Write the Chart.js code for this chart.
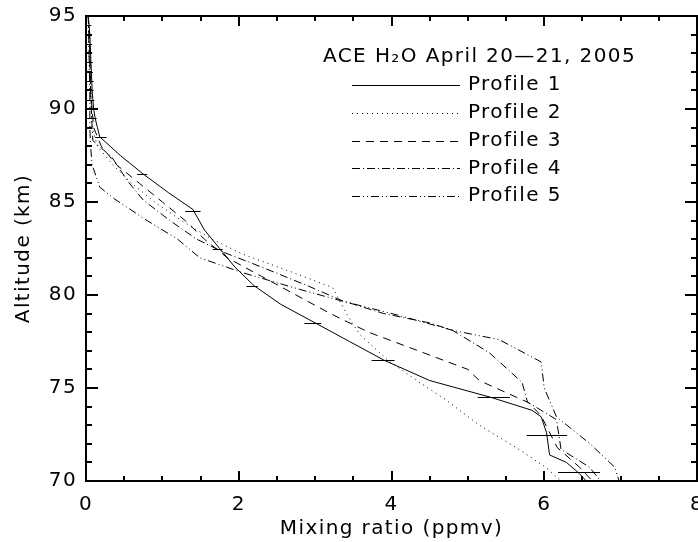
<!DOCTYPE html>
<html>
<head>
<meta charset="utf-8">
<script src="https://cdn.jsdelivr.net/npm/chart.js@4"></script>
<style>
html, body { margin: 0; padding: 0; background: #fff; }
#wrap { width: 698px; height: 542px; }
</style>
</head>
<body>
<div id="wrap"><canvas id="myChart"></canvas></div>
<script>
// altitude (km) and mixing ratio (ppmv) for each profile
var alt1 = [95, 94, 93, 92, 91, 90, 89.5, 89, 88.5, 87.5, 86.5, 85.5, 84.6, 83.5, 82.5, 81.5, 80.5, 79.5, 78.5, 77.5, 76.5, 75.4, 74.5, 73.8, 73.45, 72.6, 71.4, 71.0, 70.4, 70];
var ppm1 = [0.03, 0.05, 0.06, 0.07, 0.08, 0.1, 0.12, 0.15, 0.18, 0.45, 0.75, 1.08, 1.4, 1.55, 1.75, 1.95, 2.2, 2.55, 3.0, 3.45, 3.9, 4.5, 5.3, 5.84, 5.96, 6.03, 6.07, 6.29, 6.46, 6.55];

var alt2 = [95, 93, 91, 90, 89, 88, 87, 86, 85, 84, 83, 82.2, 81.3, 80.4, 79, 77.9, 76.5, 75.4, 74.4, 73.0, 71.7, 70.7, 70];
var ppm2 = [0.03, 0.04, 0.06, 0.07, 0.08, 0.15, 0.35, 0.6, 0.9, 1.25, 1.65, 2.05, 2.65, 3.23, 3.41, 3.58, 3.95, 4.33, 4.7, 5.15, 5.67, 6.03, 6.22];

var alt3 = [95, 93, 91, 90, 89, 88, 87, 86, 85, 84, 83, 82, 81, 80, 79, 78, 77, 76, 75.4, 74.2, 73.5, 71.8, 70.75, 70];
var ppm3 = [0.03, 0.05, 0.06, 0.08, 0.1, 0.2, 0.4, 0.7, 1.0, 1.3, 1.55, 1.85, 2.3, 2.75, 3.2, 3.7, 4.35, 5.0, 5.15, 5.8, 5.96, 6.17, 6.46, 6.63];

var alt4 = [95, 93, 91, 89, 88.3, 87.4, 86.1, 85.1, 84, 83, 82.3, 81.5, 80.5, 79.7, 79, 78.5, 78.1, 76.9, 75.3, 74.25, 73.3, 71.7, 70.75, 70];
var ppm4 = [0.03, 0.05, 0.06, 0.08, 0.09, 0.34, 0.55, 0.75, 1.1, 1.45, 1.8, 2.3, 2.9, 3.35, 3.9, 4.5, 4.8, 5.28, 5.71, 5.78, 6.16, 6.22, 6.59, 6.74];

var alt5 = [95, 93, 91, 89, 88, 87, 85.8, 85.2, 84, 83, 82, 81.2, 80.3, 79.7, 78.9, 78.1, 77.6, 76.4, 75, 73.45, 72, 70.75, 70];
var ppm5 = [0.03, 0.04, 0.05, 0.05, 0.06, 0.08, 0.18, 0.36, 0.8, 1.2, 1.49, 2.05, 2.8, 3.33, 4.1, 4.8, 5.41, 5.96, 6.0, 6.16, 6.6, 6.92, 6.98];

// horizontal error bars on profile 1
var errAlt = [94.5, 94, 93.5, 93, 92.5, 92, 91.5, 91, 90.5, 90, 89.5, 88.5, 86.5, 84.5, 82.5, 80.5, 78.5, 76.5, 74.5, 72.5, 70.5];
var errLo  = [0, 0, 0, 0, 0, 0, 0, 0, 0, 0, 0, 0.12, 0.67, 1.3, 1.66, 2.1, 2.86, 3.74, 5.13, 5.77, 6.18];
var errHi  = [0.07, 0.07, 0.08, 0.08, 0.09, 0.09, 0.1, 0.1, 0.11, 0.12, 0.14, 0.27, 0.8, 1.5, 1.79, 2.25, 3.08, 4.04, 5.55, 6.30, 6.73];

var legendTitle = "ACE H\u2082O April 20\u201421, 2005";
var labels = ["Profile 1", "Profile 2", "Profile 3", "Profile 4", "Profile 5"];

function pts(a, v) {
    var out = [];
    for (var i = 0; i < a.length; i++) out.push({x: v[i], y: a[i]});
    return out;
}

Chart.defaults.font.family = "'DejaVu Sans', sans-serif";
Chart.defaults.font.size = 20;
Chart.defaults.color = "#000";

var boxPlugin = {
    id: "box",
    beforeDraw: function(chart) {
        chart.ctx.letterSpacing = "1.4px";
    },
    afterDatasetsDraw: function(chart) {
        var ctx = chart.ctx, a = chart.chartArea;
        var xs = chart.scales.x, ys = chart.scales.y;
        var i, v, p, len;
        ctx.save();
        ctx.strokeStyle = "#000";
        ctx.lineWidth = 1;
        ctx.beginPath();
        for (i = 0; i < errAlt.length; i++) {
            p = Math.round(ys.getPixelForValue(errAlt[i])) + 0.5;
            ctx.moveTo(xs.getPixelForValue(errLo[i]), p);
            ctx.lineTo(xs.getPixelForValue(errHi[i]), p);
        }
        ctx.stroke();

        ctx.lineWidth = 2;
        ctx.strokeRect(a.left, a.top, a.right - a.left, a.bottom - a.top);
        ctx.beginPath();
        for (v = 0; v <= 8; v += 0.5) {
            p = Math.round(xs.getPixelForValue(v));
            len = (v % 2 === 0) ? 10 : 5;
            ctx.moveTo(p, a.bottom); ctx.lineTo(p, a.bottom - len);
            ctx.moveTo(p, a.top); ctx.lineTo(p, a.top + len);
        }
        for (v = 70; v <= 95; v += 1) {
            p = Math.round(ys.getPixelForValue(v));
            len = (v % 5 === 0) ? 12 : 6;
            ctx.moveTo(a.left, p); ctx.lineTo(a.left + len, p);
            ctx.moveTo(a.right, p); ctx.lineTo(a.right - len, p);
        }
        ctx.stroke();
        ctx.restore();
    },
    afterDraw: function(chart) {
        var ctx = chart.ctx;
        ctx.save();
        ctx.fillStyle = "#000";
        ctx.strokeStyle = "#000";
        ctx.lineWidth = 1;
        ctx.font = "20px 'DejaVu Sans'";
        ctx.textBaseline = "middle";
        ctx.textAlign = "left";
        ctx.fillText(legendTitle, 323, 57);
        for (var i = 0; i < chart.data.datasets.length; i++) {
            var ds = chart.data.datasets[i];
            var y = 85 + i * 27.8;
            ctx.setLineDash(ds.borderDash || []);
            ctx.beginPath();
            ctx.moveTo(352, Math.round(y) + 0.5);
            ctx.lineTo(460, Math.round(y) + 0.5);
            ctx.stroke();
            ctx.setLineDash([]);
            ctx.fillText(ds.label, 468, y);
        }
        ctx.restore();
    }
};

function line(label, data, dash) {
    return {
        label: label,
        data: data,
        showLine: true,
        borderColor: "#000",
        backgroundColor: "#000",
        borderWidth: 1,
        borderDash: dash,
        pointRadius: 0,
        tension: 0
    };
}

// keep chart area edges fixed, no extra room for the edge tick labels
function noPad(s) {
    s.paddingLeft = 0; s.paddingRight = 0; s.paddingTop = 0; s.paddingBottom = 0;
}

var ctx = document.getElementById("myChart").getContext("2d");
var myChart = new Chart(ctx, {
    type: "scatter",
    data: {
        datasets: [
            line(labels[0], pts(alt1, ppm1), []),
            line(labels[1], pts(alt2, ppm2), [1, 4]),
            line(labels[2], pts(alt3, ppm3), [8, 6]),
            line(labels[3], pts(alt4, ppm4), [8, 3, 1, 3]),
            line(labels[4], pts(alt5, ppm5), [8, 3, 1, 3, 1, 3])
        ]
    },
    options: {
        responsive: true,
        maintainAspectRatio: false,
        animation: false,
        layout: { padding: { top: 16, right: 1, left: 0, bottom: 0 } },
        plugins: { legend: { display: false }, tooltip: { enabled: false } },
        scales: {
            x: {
                type: "linear", min: 0, max: 8,
                ticks: { stepSize: 2, padding: 12, maxRotation: 0 },
                grid: { display: false, drawTicks: false },
                border: { display: false },
                title: { display: true, text: "Mixing ratio (ppmv)", padding: { top: 0, bottom: 1 } },
                afterFit: function(s) { s.height = 61; noPad(s); }
            },
            y: {
                type: "linear", min: 70, max: 95,
                ticks: { stepSize: 5, padding: 9 },
                grid: { display: false, drawTicks: false },
                border: { display: false },
                title: { display: true, text: "Altitude (km)", padding: { top: 12, bottom: 0 } },
                afterFit: function(s) { s.width = 86; noPad(s); }
            }
        }
    },
    plugins: [boxPlugin]
});
</script>
</body>
</html>
